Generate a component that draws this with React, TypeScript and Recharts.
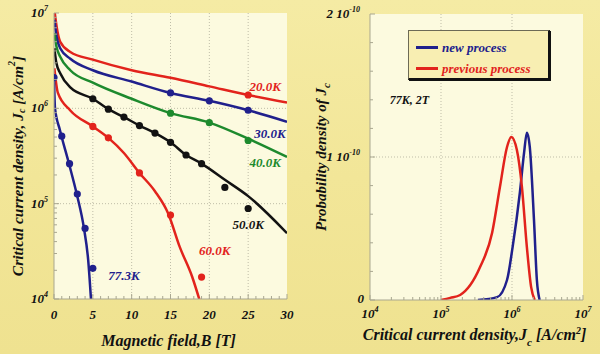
import React from 'react';
import {
  ComposedChart,
  Line,
  XAxis,
  YAxis,
  CartesianGrid,
  ReferenceDot,
  ReferenceLine,
  Legend,
  Label,
} from 'recharts';

const FONT = '"Liberation Serif", "Times New Roman", Times, serif';
const RED = '#e2231c';
const BLUE = '#20208c';
const GREEN = '#1d8a2d';
const BLACK = '#121212';
const PLOT_BG = '#fcfadf';
const FRAME = '#a9a790';
const GRID = '#bfbda8';
const PAGE_BG = '#f2e698';

// ---------------- Left panel: Jc vs magnetic field ----------------
const bCurve20 = [0.1, 0.35, 0.8, 2.1, 5, 10, 15, 20, 25, 30];
const jcCurve20 = [1.0e7, 7.1e6, 5.0e6, 3.9e6, 3.24e6, 2.51e6, 2.09e6, 1.7e6, 1.38e6, 1.15e6];
const bDots20 = [25];
const jcDots20 = [1.38e6];

const bCurve30 = [0.05, 0.25, 0.8, 2.1, 5, 10, 15, 20, 25, 30];
const jcCurve30 = [8.5e6, 6.2e6, 4.27e6, 3.31e6, 2.51e6, 1.91e6, 1.45e6, 1.2e6, 9.55e5, 7.24e5];
const bDots30 = [15, 20, 25];
const jcDots30 = [1.45e6, 1.2e6, 9.55e5];

const bCurve40 = [0.05, 0.3, 0.8, 2.1, 5, 10, 15, 20, 25, 30];
const jcCurve40 = [6.17e6, 4.5e6, 3.47e6, 2.51e6, 1.86e6, 1.26e6, 8.9e5, 7.08e5, 4.8e5, 3.09e5];
const bDots40 = [15, 20, 25];
const jcDots40 = [8.9e5, 7.08e5, 4.6e5];

const bCurve50 = [0.05, 0.3, 0.8, 2.1, 5, 7, 9, 11, 13, 15, 17, 19, 22, 25, 30];
const jcCurve50 = [4.27e6, 3.0e6, 2.34e6, 1.66e6, 1.26e6, 9.8e5, 8.1e5, 6.6e5, 5.5e5, 4.4e5, 3.24e5, 2.63e5, 1.78e5, 1.2e5, 4.9e4];
const bDots50 = [5, 7, 9, 11, 13, 15, 17, 19, 22, 25];
const jcDots50 = [1.26e6, 9.8e5, 8.1e5, 6.6e5, 5.5e5, 4.4e5, 3.24e5, 2.63e5, 1.48e5, 8.9e4];

const bCurve60 = [0.05, 0.5, 2.1, 5, 7, 9, 11, 13, 14.7, 16.2, 17.8, 18.7];
const jcCurve60 = [2.63e6, 1.45e6, 9.5e5, 6.46e5, 4.9e5, 3.4e5, 2.1e5, 1.35e5, 7.9e4, 3.5e4, 1.7e4, 1.0e4];
const bDots60 = [5, 7, 11, 15, 19];
const jcDots60 = [6.46e5, 4.9e5, 2.1e5, 7.6e4, 1.7e4];

const bCurve77 = [0, 0.13, 0.77, 1.93, 2.96, 3.86, 4.4, 4.76];
const jcCurve77 = [2.1e6, 1.0e6, 5.9e5, 2.63e5, 1.23e5, 5.5e4, 2.57e4, 1.0e4];
const bDots77 = [0, 1, 2, 3, 4, 5];
const jcDots77 = [2.1e6, 5.1e5, 2.63e5, 1.26e5, 5.5e4, 2.1e4];

// curve labels: [text, B, Jc]
const curveLabelText = ['20.0K', '30.0K', '40.0K', '50.0K', '60.0K', '77.3K'];
const curveLabelB = [27.2, 27.8, 27.2, 25, 20.7, 9.0];
const curveLabelJc = [1.71e6, 5.5e5, 2.7e5, 6.0e4, 3.2e4, 1.78e4];

const fieldMajorTicks = [0, 5, 10, 15, 20, 25, 30];
const fieldAllTicks = [0, 1, 2, 3, 4, 5, 6, 7, 8, 9, 10, 11, 12, 13, 14, 15, 16, 17, 18, 19, 20, 21, 22, 23, 24, 25, 26, 27, 28, 29, 30];
const fieldGrid = [5, 10, 15, 20, 25];
const jcMajorExponents = [4, 5, 6, 7];
const jcMajorTicks = [1e4, 1e5, 1e6, 1e7];
const jcAllTicks = [
  1e4, 2e4, 3e4, 4e4, 5e4, 6e4, 7e4, 8e4, 9e4,
  1e5, 2e5, 3e5, 4e5, 5e5, 6e5, 7e5, 8e5, 9e5,
  1e6, 2e6, 3e6, 4e6, 5e6, 6e6, 7e6, 8e6, 9e6, 1e7,
];
const jcGrid = [1e5, 1e6];

// ---------------- Right panel: probability density ----------------
const jcNew = [3.31e5, 6.17e5, 8.51e5, 1.02e6, 1.29e6, 1.48e6, 1.62e6, 1.78e6, 2.04e6, 2.24e6, 2.45e6];
const probNew = [0, 0.02e-10, 0.14e-10, 0.37e-10, 0.75e-10, 1.03e-10, 1.17e-10, 1.07e-10, 0.56e-10, 0.14e-10, 0];
const jcPrev = [1.0e5, 1.35e5, 1.86e5, 3.55e5, 5.25e5, 6.76e5, 8.51e5, 9.77e5, 1.17e6, 1.38e6, 1.62e6, 1.86e6, 2.09e6];
const probPrev = [0, 0.015e-10, 0.035e-10, 0.23e-10, 0.47e-10, 0.79e-10, 1.07e-10, 1.14e-10, 1.05e-10, 0.79e-10, 0.37e-10, 0.09e-10, 0];

const densityMajorTicks = [1e4, 1e5, 1e6, 1e7];
const densityExponents = [4, 5, 6, 7];
const densityAllTicks = jcAllTicks;
const densityGrid = [1e5, 1e6];
const probMajorTicks = [0, 1e-10, 2e-10];
const probMajorMantissa = ['0', '1', '2'];
const probAllTicks = [0, 2e-11, 4e-11, 6e-11, 8e-11, 1e-10, 1.2e-10, 1.4e-10, 1.6e-10, 1.8e-10, 2e-10];
const probGrid = [1e-10];
const conditionText = '77K, 2T';
const conditionJc = 3.6e4;
const conditionProb = 1.4e-10;

const zip = (xs: number[], ys: number[], xk: string, yk: string) =>
  xs.map((x, i) => ({ [xk]: x, [yk]: ys[i] }));

const isMajor = (v: number, majors: number[]) =>
  majors.some((m) => Math.abs(m - v) <= Math.abs(m) * 1e-6 + 1e-30);

const textStyle = {
  fontFamily: FONT,
  fontWeight: 'bold' as const,
  fontStyle: 'italic' as const,
};

type Side = 'bottom' | 'top' | 'left' | 'right';

const makeTick =
  (side: Side, majors: number[], render?: (v: number, x: number, y: number) => React.ReactNode) =>
  (props: any) => {
    const { x, y, payload } = props;
    const v = payload.value as number;
    const major = isMajor(v, majors);
    const len = major ? 5 : 3;
    let l;
    if (side === 'bottom') l = { x1: x, x2: x, y1: y, y2: y - len };
    else if (side === 'top') l = { x1: x, x2: x, y1: y, y2: y + len };
    else if (side === 'left') l = { x1: x, x2: x + len, y1: y, y2: y };
    else l = { x1: x, x2: x - len, y1: y, y2: y };
    return (
      <g>
        <line {...l} stroke={FRAME} strokeWidth={1} />
        {major && render ? render(v, x, y) : null}
      </g>
    );
  };

// ---------------- Left chart ----------------
const LeftChart = () => {
  const curves = [
    { b: bCurve20, j: jcCurve20, c: RED },
    { b: bCurve30, j: jcCurve30, c: BLUE },
    { b: bCurve40, j: jcCurve40, c: GREEN },
    { b: bCurve50, j: jcCurve50, c: BLACK },
    { b: bCurve60, j: jcCurve60, c: RED },
    { b: bCurve77, j: jcCurve77, c: BLUE },
  ];
  const dots = [
    { b: bDots20, j: jcDots20, c: RED },
    { b: bDots30, j: jcDots30, c: BLUE },
    { b: bDots40, j: jcDots40, c: GREEN },
    { b: bDots50, j: jcDots50, c: BLACK },
    { b: bDots60, j: jcDots60, c: RED },
    { b: bDots77, j: jcDots77, c: BLUE },
  ];
  const labelColors = [RED, BLUE, GREEN, BLACK, RED, BLUE];

  const xLabel = (v: number, x: number, y: number) => (
    <text x={x} y={y + 20} textAnchor="middle" fontSize={13} fill="#111" {...textStyle}>
      {v}
    </text>
  );
  const yLabel = (v: number, x: number, y: number) => {
    const idx = jcMajorTicks.findIndex((m) => isMajor(v, [m]));
    return (
      <text x={x - 6} y={y + 4} textAnchor="end" fontSize={13} fill="#111" {...textStyle}>
        <tspan>10</tspan>
        <tspan dy={-6} fontSize={8}>
          {jcMajorExponents[idx]}
        </tspan>
      </text>
    );
  };

  return (
    <ComposedChart width={300} height={354} margin={{ top: 13, right: 13, left: 0, bottom: 0 }}>
      <CartesianGrid fill={PLOT_BG} stroke="none" horizontal={false} vertical={false} />
      {fieldGrid.map((g) => (
        <ReferenceLine key={'vx' + g} x={g} stroke={GRID} strokeDasharray="1 2" />
      ))}
      {jcGrid.map((g) => (
        <ReferenceLine key={'hy' + g} y={g} stroke={GRID} strokeDasharray="1 2" />
      ))}
      <XAxis
        dataKey="b"
        type="number"
        domain={[0, 30]}
        allowDataOverflow
        ticks={fieldAllTicks}
        interval={0}
        height={55}
        tickSize={0}
        tickMargin={0}
        tickLine={false}
        axisLine={{ stroke: FRAME }}
        tick={makeTick('bottom', fieldMajorTicks, xLabel)}
      >
        <Label
          content={(p: any) => {
            const vb = p.viewBox;
            return (
              <text x={vb.x + vb.width / 2 - 2} y={vb.y + 47} textAnchor="middle" fontSize={16} fill="#111" {...textStyle}>
                Magnetic field,B [T]
              </text>
            );
          }}
        />
      </XAxis>
      <XAxis
        xAxisId="top"
        orientation="top"
        type="number"
        domain={[0, 30]}
        allowDataOverflow
        ticks={fieldAllTicks}
        interval={0}
        height={0}
        tickSize={0}
        tickMargin={0}
        tickLine={false}
        axisLine={{ stroke: FRAME }}
        tick={makeTick('top', fieldMajorTicks)}
      />
      <YAxis
        dataKey="jc"
        type="number"
        scale="log"
        domain={[1e4, 1e7]}
        allowDataOverflow
        ticks={jcAllTicks}
        interval={0}
        width={54}
        tickSize={0}
        tickMargin={0}
        tickLine={false}
        axisLine={{ stroke: FRAME }}
        tick={makeTick('left', jcMajorTicks, yLabel)}
      >
        <Label
          content={(p: any) => {
            const vb = p.viewBox;
            const cx = vb.x + 17;
            const cy = vb.y + vb.height / 2 + 10;
            return (
              <text
                x={cx}
                y={cy}
                transform={`rotate(-90 ${cx} ${cy})`}
                textAnchor="middle"
                dominantBaseline="central"
                fontSize={15.5}
                fill="#111"
                {...textStyle}
              >
                <tspan>Critical current density, J</tspan>
                <tspan dy={4} fontSize={10}>c</tspan>
                <tspan dy={-4}> [A/cm</tspan>
                <tspan dy={-6} fontSize={10}>2</tspan>
                <tspan dy={6}>]</tspan>
              </text>
            );
          }}
        />
      </YAxis>
      <YAxis
        yAxisId="right"
        orientation="right"
        type="number"
        scale="log"
        domain={[1e4, 1e7]}
        allowDataOverflow
        ticks={jcAllTicks}
        interval={0}
        width={0}
        tickSize={0}
        tickMargin={0}
        tickLine={false}
        axisLine={{ stroke: FRAME }}
        tick={makeTick('right', jcMajorTicks)}
      />
      {curves.map((c, i) => (
        <Line
          key={'curve' + i}
          data={zip(c.b, c.j, 'b', 'jc')}
          dataKey="jc"
          type="monotone"
          stroke={c.c}
          strokeWidth={2.5}
          dot={false}
          activeDot={false}
          isAnimationActive={false}
        />
      ))}
      {dots.map((d, i) => (
        <Line
          key={'dots' + i}
          data={zip(d.b, d.j, 'b', 'jc')}
          dataKey="jc"
          stroke="none"
          dot={{ r: 3.6, fill: d.c, stroke: d.c, strokeWidth: 0 }}
          activeDot={false}
          isAnimationActive={false}
        />
      ))}
      {curveLabelText.map((t, i) => (
        <ReferenceDot
          key={'lab' + t}
          x={curveLabelB[i]}
          y={curveLabelJc[i]}
          r={0}
          fill="none"
          stroke="none"
          label={(p: any) => {
            const vb = p.viewBox;
            return (
              <text
                x={vb.x + (vb.width || 0) / 2}
                y={vb.y + (vb.height || 0) / 2}
                textAnchor="middle"
                dominantBaseline="central"
                fontSize={13}
                fill={labelColors[i]}
                {...textStyle}
              >
                {t}
              </text>
            );
          }}
        />
      ))}
    </ComposedChart>
  );
};

// ---------------- Right chart ----------------
const LegendContent = (props: any) => {
  const payload = (props.payload || []).filter((p: any) => p.value);
  return (
    <div
      style={{
        width: 142,
        height: 50,
        boxSizing: 'border-box',
        background: '#f8eeb2',
        borderTop: '1px solid #6d6a55',
        borderLeft: '1px solid #6d6a55',
        borderRight: '2px solid #111',
        borderBottom: '2px solid #111',
        boxShadow: '1px 1px 0 #111',
        paddingTop: 6,
        paddingLeft: 7,
      }}
    >
      {payload.map((p: any) => (
        <div key={p.value} style={{ display: 'flex', alignItems: 'center', height: 21 }}>
          <div style={{ width: 22, height: 3, background: p.color, marginRight: 4 }} />
          <span style={{ ...textStyle, fontSize: 13, color: p.color, whiteSpace: 'nowrap' }}>{p.value}</span>
        </div>
      ))}
    </div>
  );
};

const RightChart = () => {
  const xLabel = (v: number, x: number, y: number) => {
    const idx = densityMajorTicks.findIndex((m) => isMajor(v, [m]));
    return (
      <text x={x} y={y + 18} textAnchor="middle" fontSize={13} fill="#111" {...textStyle}>
        <tspan>10</tspan>
        <tspan dy={-6} fontSize={8}>
          {densityExponents[idx]}
        </tspan>
      </text>
    );
  };
  const yLabel = (v: number, x: number, y: number) => {
    const idx = probMajorTicks.findIndex((m) => (m === 0 ? v === 0 : isMajor(v, [m])));
    if (idx === 0) {
      return (
        <text x={x - 6} y={y + 3} textAnchor="end" fontSize={13} fill="#111" {...textStyle}>
          0
        </text>
      );
    }
    return (
      <text x={x - 10} y={y + 4} textAnchor="end" fontSize={13} fill="#111" {...textStyle}>
        <tspan>{probMajorMantissa[idx]} 10</tspan>
        <tspan dy={-6} fontSize={8}>
          -10
        </tspan>
      </text>
    );
  };

  return (
    <ComposedChart width={300} height={354} margin={{ top: 14, right: 17, left: 0, bottom: 0 }}>
      <CartesianGrid fill={PLOT_BG} stroke="none" horizontal={false} vertical={false} />
      {densityGrid.map((g) => (
        <ReferenceLine key={'vx' + g} x={g} stroke={GRID} strokeDasharray="1 2" />
      ))}
      {probGrid.map((g) => (
        <ReferenceLine key={'hy' + g} y={g} stroke={GRID} strokeDasharray="1 2" />
      ))}
      <XAxis
        dataKey="jc"
        type="number"
        scale="log"
        domain={[1e4, 1e7]}
        allowDataOverflow
        ticks={densityAllTicks}
        interval={0}
        height={54}
        tickSize={0}
        tickMargin={0}
        tickLine={false}
        axisLine={{ stroke: FRAME }}
        tick={makeTick('bottom', densityMajorTicks, xLabel)}
      >
        <Label
          content={(p: any) => {
            const vb = p.viewBox;
            return (
              <text x={vb.x + vb.width / 2 - 2} y={vb.y + 40} textAnchor="middle" fontSize={16} fill="#111" {...textStyle}>
                <tspan>Critical current density,J</tspan>
                <tspan dy={6} fontSize={11}>c</tspan>
                <tspan dy={-6}> [A/cm</tspan>
                <tspan dy={-6} fontSize={10}>2</tspan>
                <tspan dy={6}>]</tspan>
              </text>
            );
          }}
        />
      </XAxis>
      <XAxis
        xAxisId="top"
        orientation="top"
        type="number"
        scale="log"
        domain={[1e4, 1e7]}
        allowDataOverflow
        ticks={densityAllTicks}
        interval={0}
        height={0}
        tickSize={0}
        tickMargin={0}
        tickLine={false}
        axisLine={{ stroke: FRAME }}
        tick={makeTick('top', densityMajorTicks)}
      />
      <YAxis
        dataKey="p"
        type="number"
        domain={[0, 2e-10]}
        allowDataOverflow
        ticks={probAllTicks}
        interval={0}
        width={70}
        tickSize={0}
        tickMargin={0}
        tickLine={false}
        axisLine={{ stroke: FRAME }}
        tick={makeTick('left', probMajorTicks, yLabel)}
      >
        <Label
          content={(p: any) => {
            const vb = p.viewBox;
            const cx = vb.x + 21;
            const cy = vb.y + vb.height / 2;
            return (
              <text
                x={cx}
                y={cy}
                transform={`rotate(-90 ${cx} ${cy})`}
                textAnchor="middle"
                dominantBaseline="central"
                fontSize={15}
                fill="#111"
                {...textStyle}
              >
                <tspan>Probability density of J</tspan>
                <tspan dy={5} fontSize={11}>c</tspan>
              </text>
            );
          }}
        />
      </YAxis>
      <YAxis
        yAxisId="right"
        orientation="right"
        type="number"
        domain={[0, 2e-10]}
        allowDataOverflow
        ticks={probAllTicks}
        interval={0}
        width={0}
        tickSize={0}
        tickMargin={0}
        tickLine={false}
        axisLine={{ stroke: FRAME }}
        tick={makeTick('right', probMajorTicks)}
      />
      <Line
        name="new process"
        data={zip(jcNew, probNew, 'jc', 'p')}
        dataKey="p"
        type="monotone"
        stroke={BLUE}
        strokeWidth={2.5}
        dot={false}
        activeDot={false}
        isAnimationActive={false}
      />
      <Line
        name="previous process"
        data={zip(jcPrev, probPrev, 'jc', 'p')}
        dataKey="p"
        type="monotone"
        stroke={RED}
        strokeWidth={2.5}
        dot={false}
        activeDot={false}
        isAnimationActive={false}
      />
      <ReferenceDot
        x={conditionJc}
        y={conditionProb}
        r={0}
        fill="none"
        stroke="none"
        label={(p: any) => {
          const vb = p.viewBox;
          return (
            <text
              x={vb.x + (vb.width || 0) / 2}
              y={vb.y + (vb.height || 0) / 2}
              textAnchor="middle"
              dominantBaseline="central"
              fontSize={12}
              fill="#111"
              {...textStyle}
            >
              {conditionText}
            </text>
          );
        }}
      />
      <Legend
        layout="vertical"
        align="center"
        verticalAlign="middle"
        content={<LegendContent />}
        wrapperStyle={{ left: 108, top: 30, width: 142 }}
      />
    </ComposedChart>
  );
};

export default function App() {
  return (
    <div
      style={{
        position: 'absolute',
        left: 0,
        top: 0,
        width: 600,
        height: 354,
        background: `linear-gradient(180deg, #f5eba4 0%, ${PAGE_BG} 50%, #efe290 100%)`,
        display: 'flex',
        overflow: 'hidden',
      }}
    >
      <div style={{ position: 'relative', width: 300, height: 354 }}>
        <LeftChart />
      </div>
      <div style={{ position: 'relative', width: 300, height: 354 }}>
        <RightChart />
      </div>
    </div>
  );
}
